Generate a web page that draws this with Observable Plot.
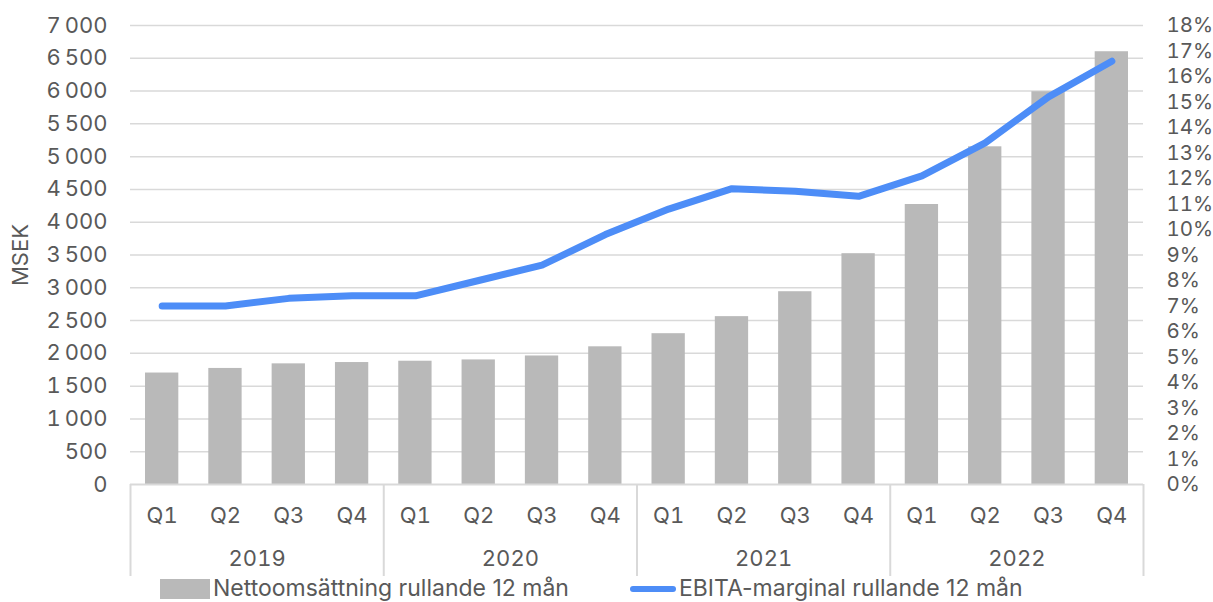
<!DOCTYPE html>
<html><head><meta charset="utf-8">
<script src="https://cdn.jsdelivr.net/npm/d3@7"></script>
<script src="https://cdn.jsdelivr.net/npm/@observablehq/plot@0.6"></script>
<style>
body{margin:0;background:#fff;font-family:Inter,"Liberation Sans",sans-serif;overflow:hidden;width:1213px;height:602px}
#chart svg{display:block}
#legend{position:relative;height:26px;font-size:23px;color:#595959}
.item{position:absolute;top:0;display:flex;align-items:center;white-space:nowrap;line-height:25px}
.sw-bar{width:50px;height:20px;background:#b9b9b9;margin-right:3px}
.sw-line{width:46px;height:6px;border-radius:3px;background:#4d8df7;margin-right:3px}
</style></head><body>
<div id="chart"></div>
<div id="legend">
  <div class="item" style="left:160px"><span class="sw-bar"></span>Nettoomsättning rullande 12 mån</div>
  <div class="item" style="left:630px"><span class="sw-line"></span>EBITA-marginal rullande 12 mån</div>
</div>
<script>
const years = ["2019", "2020", "2021", "2022"];
const quarters = ["Q1", "Q2", "Q3", "Q4"];
const sales = [1700, 1770, 1840, 1860, 1880, 1900, 1960, 2100, 2300, 2560, 2940, 3520, 4270, 5150, 5990, 6600];
const ebitaMargin = [7.0, 7.0, 7.3, 7.4, 7.4, 8.0, 8.6, 9.8, 10.8, 11.6, 11.5, 11.3, 12.1, 13.4, 15.2, 16.6];
const salesTicks = d3.range(0, 7001, 500);
const marginTicks = d3.range(0, 19, 1);

const yMax = 7000, pctMax = 18;
const toY = p => p * yMax / pctMax;

const rows = sales.map((s, i) => ({
  i, year: years[Math.floor(i / 4)], quarter: quarters[i % 4], sales: s, margin: ebitaMargin[i]
}));

const fmt = v => v >= 1000 ? d3.format(",")(v).replace(",", "\u2009") : String(v);
const textColor = "#595959";
const gridColor = "#d9d9d9";

const chart = Plot.plot({
  width: 1213,
  height: 576,
  marginLeft: 130,
  marginRight: 70,
  marginTop: 25,
  marginBottom: 92,
  style: {fontFamily: "Inter, 'Liberation Sans', sans-serif", fontSize: "22px", color: textColor, background: "#fff"},
  x: {type: "linear", domain: [0, 16], axis: null},
  y: {domain: [0, yMax], axis: null},
  marks: [
    Plot.gridY(salesTicks.slice(1), {stroke: gridColor, strokeOpacity: 1, strokeWidth: 1.5}),
    Plot.rectY(rows, {x1: "i", x2: d => d.i + 1, y: "sales", fill: "#b9b9b9", insetLeft: 15, insetRight: 15}),
    Plot.ruleY([0], {stroke: gridColor, strokeWidth: 2}),
    Plot.line(rows, {x: d => d.i + 0.5, y: d => toY(d.margin), stroke: "#4d8df7", strokeWidth: 7, strokeLinecap: "round", strokeLinejoin: "round"}),
    Plot.axisY(salesTicks, {anchor: "left", tickSize: 0, tickPadding: 23, tickFormat: fmt, fill: textColor,
      label: "MSEK", labelAnchor: "center", labelArrow: "none", labelOffset: 118}),
    Plot.axisY(marginTicks.map(toY), {anchor: "right", tickSize: 0, tickPadding: 23, fontSize: 20.5, tickFormat: (d, i) => marginTicks[i] + "%", fill: textColor, label: null}),
    Plot.axisX(rows.map(d => d.i + 0.5), {anchor: "bottom", tickSize: 0, tickPadding: 23, tickFormat: (d, i) => rows[i].quarter, fill: textColor, label: null}),
    Plot.axisX(years.map((y, k) => k * 4 + 2), {anchor: "bottom", tickSize: 0, tickPadding: 66, tickFormat: (d, k) => years[k], fill: textColor, label: null}),
    Plot.axisX(d3.range(0, 17, 4), {anchor: "bottom", tickSize: 92, stroke: gridColor, strokeWidth: 2, strokeOpacity: 1, tickFormat: () => "", label: null})
  ]
});
document.getElementById("chart").appendChild(chart);
</script>
</body></html>
